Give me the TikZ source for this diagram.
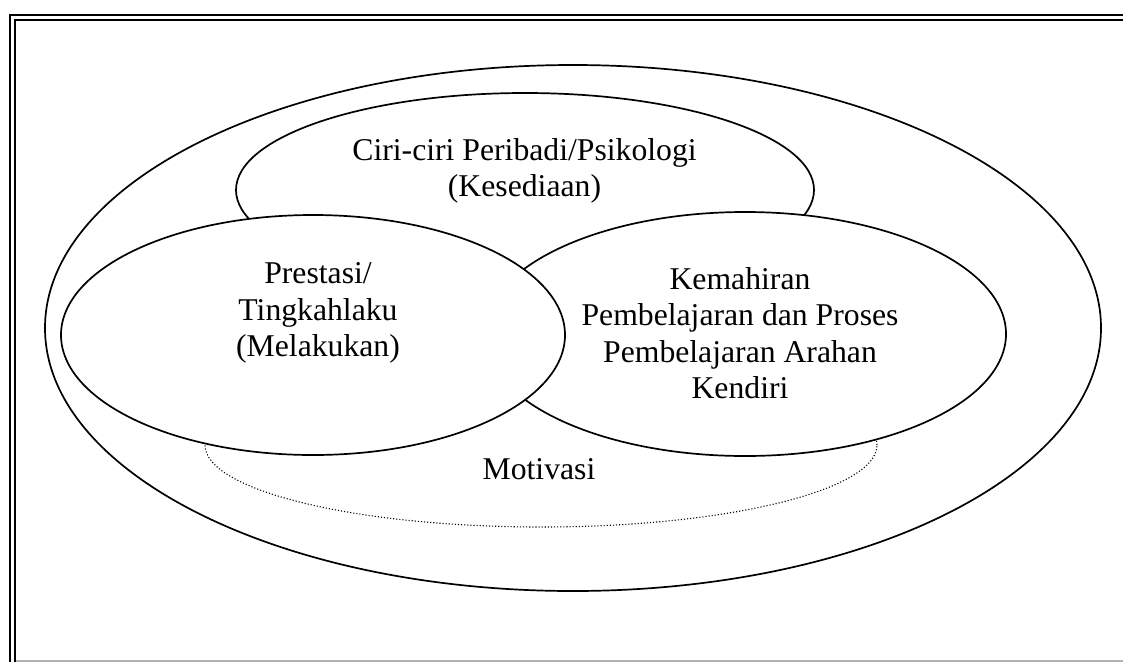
\documentclass[tikz,border=0pt]{standalone}
\usepackage{fontspec}
\setmainfont{Liberation Serif}
\usetikzlibrary{shapes.geometric}
\tikzset{
  ell/.style={ellipse, draw, fill=white, line width=1.7pt, inner sep=0pt},
  dotell/.style={ellipse, draw, line width=1.1pt, dash pattern=on 1.1pt off 2pt, inner sep=0pt},
  lbl/.style={align=center, inner sep=0pt, font=\fontsize{31.7}{36.5}\selectfont},
  frameline/.style={line width=2pt}
}
\begin{document}
\begin{tikzpicture}[x=1pt,y=-1pt]
\useasboundingbox (0,0) rectangle (1123,662);
% frame
\draw[frameline] (10.3,662) -- (10.3,15.3) -- (1123,15.3);
\draw[frameline] (15,662) -- (15,20.3) -- (1123,20.3);
\draw[gray!60, line width=1.5pt] (16,661) -- (1123,661);
% ellipses
\node[ell, minimum width=1056pt, minimum height=526pt] (outer) at (573,328) {};
\node[dotell, minimum width=672pt, minimum height=164pt] (mot) at (541,445) {};
\node[ell, minimum width=578pt, minimum height=194pt] (top) at (525,190) {};
\node[ell, minimum width=522pt, minimum height=244pt] (right) at (745,334) {};
\node[ell, minimum width=504pt, minimum height=240pt] (left) at (313,335) {};
% labels
\node[lbl] (toptext) at (524.5,171) {Ciri-ciri Peribadi/Psikologi\\(Kesediaan)};
\node[lbl] (lefttext) at (318,313) {Prestasi/\\Tingkahlaku\\(Melakukan)};
\node[lbl] (righttext) at (740,333) {Kemahiran\\Pembelajaran dan Proses\\Pembelajaran Arahan\\Kendiri};
\node[lbl] (mottext) at (539,469) {Motivasi};
\end{tikzpicture}
\end{document}
